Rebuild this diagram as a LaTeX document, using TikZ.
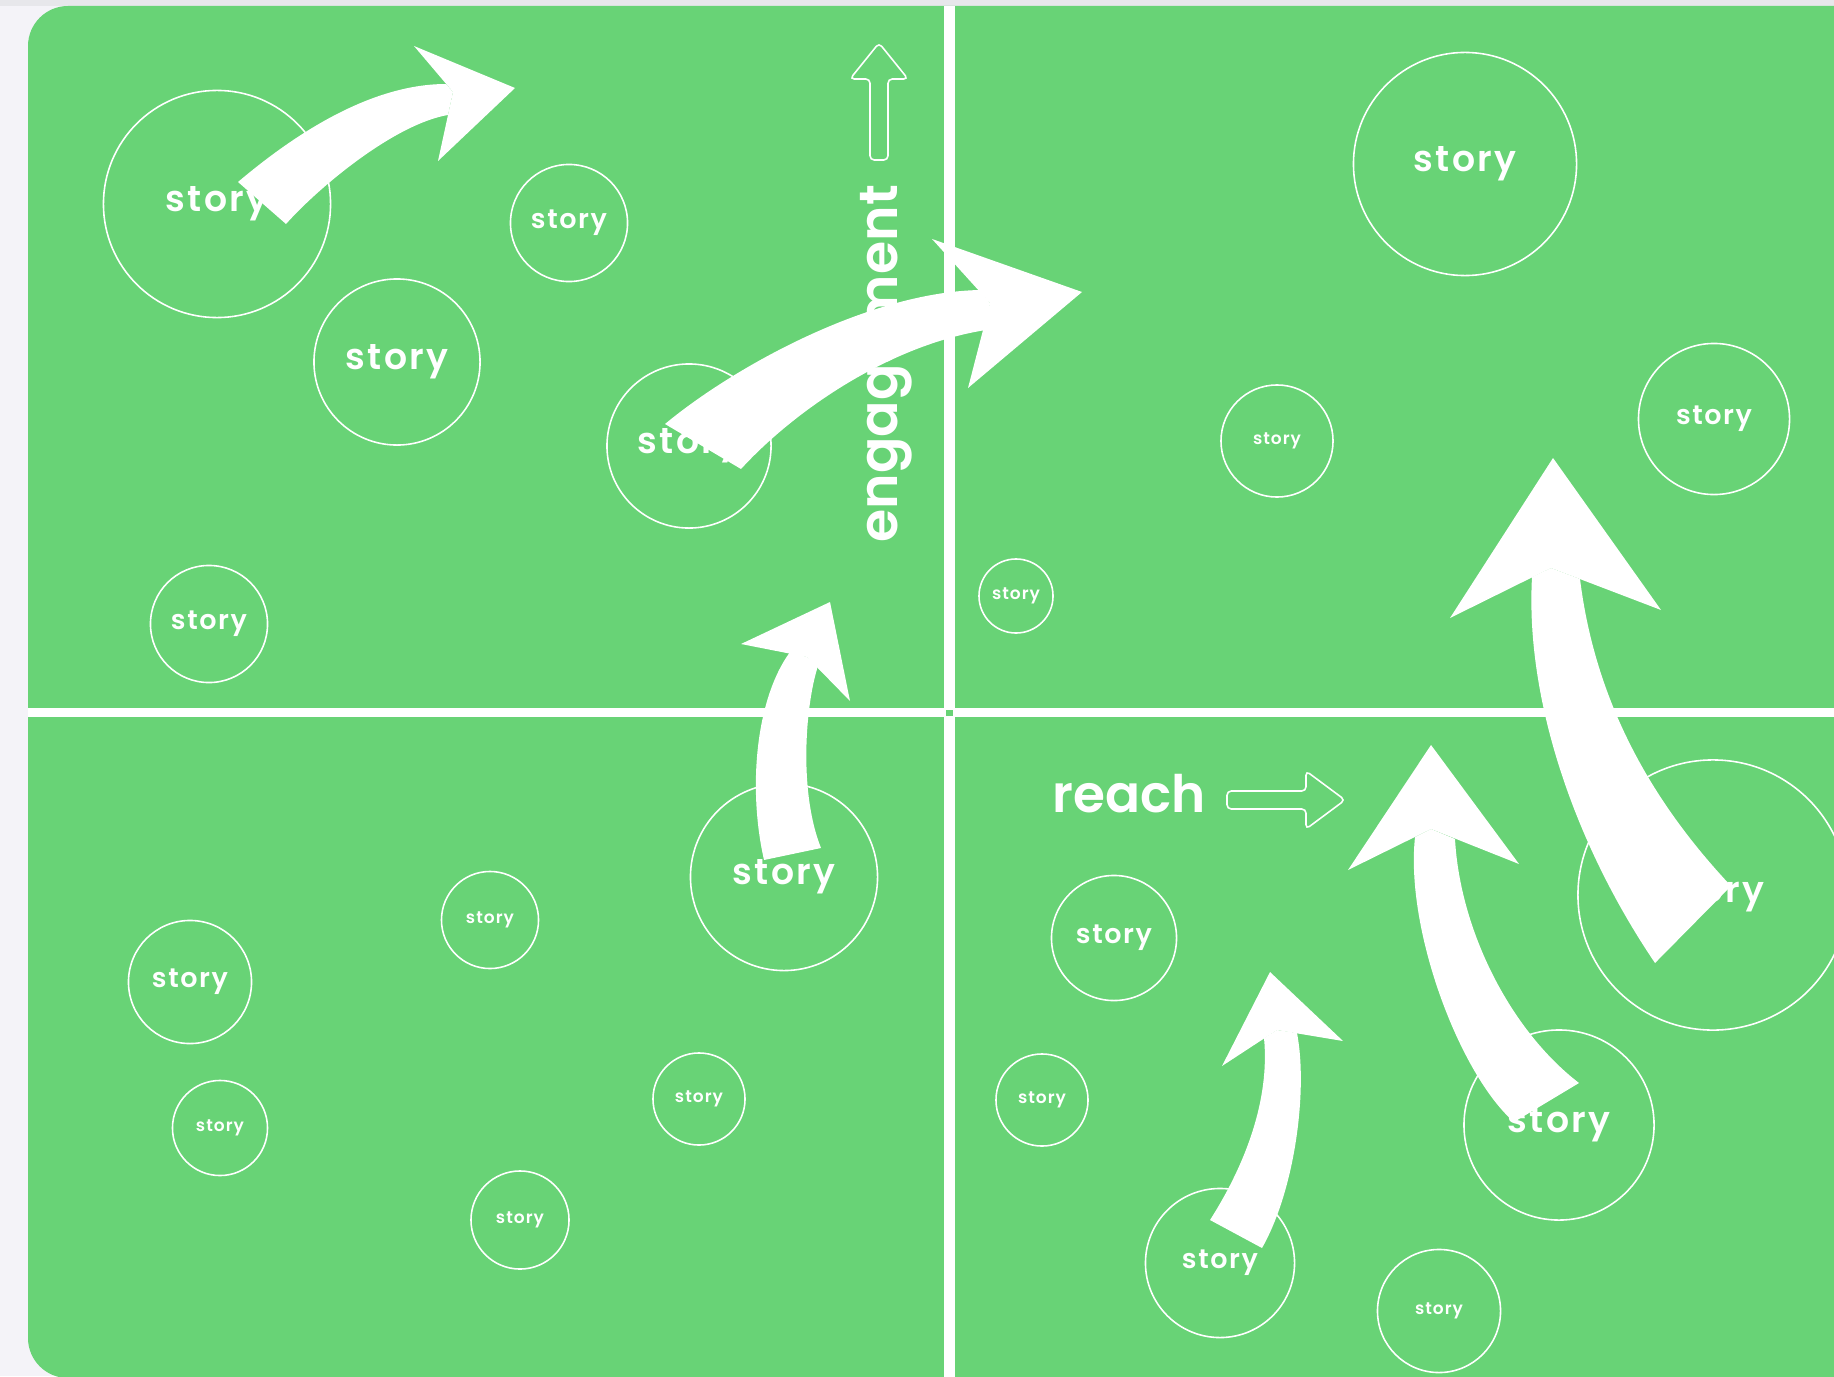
\documentclass[tikz,border=0pt]{standalone}
\usepackage{fontspec}
\setmainfont{Poppins}[BoldFont={Poppins SemiBold}]
\newfontfamily\storyfont{Poppins SemiBold}[LetterSpace=6]
\definecolor{bggreen}{HTML}{68D376}
\definecolor{pagebg}{HTML}{F4F3F8}
\definecolor{topband}{HTML}{E7E7EB}
\newcommand\storytext[1]{\resizebox{#1}{!}{\storyfont story}}
\tikzset{
  storycirc/.style={circle, draw=white, line width=0.45pt, inner sep=0pt, text=white},
  bigarrow/.style={fill=white},
  outlinearrow/.style={draw=white, line width=0.45pt, rounded corners=1.2pt},
  axislabel/.style={text=white, inner sep=0pt, font=\bfseries}
}
\begin{document}
\begin{tikzpicture}[x=0.01cm, y=-0.01cm]
\useasboundingbox (0,0) rectangle (1834,1376);
\clip (0,0) rectangle (1834,1376);
% page background
\fill[pagebg] (0,0) rectangle (1834,1376);
\fill[topband] (0,0) rectangle (1834,6);
% green board
\fill[bggreen, rounded corners=0.4cm] (28,6) rectangle (1900,1378);
% quadrant lines
\fill[white] (944,6) rectangle (955,1378);
\fill[white] (28,708) rectangle (1834,717);
\fill[bggreen] (946,710) rectangle (953,716);

% story circles
\node[storycirc, minimum size=2.27cm] (c1) at (217,204) {\storytext{1.02cm}};
\node[storycirc, minimum size=1.17cm] (c2) at (569,223) {\storytext{0.76cm}};
\node[storycirc, minimum size=1.66cm] (c3) at (397,362) {\storytext{1.02cm}};
\node[storycirc, minimum size=1.64cm] (c4) at (689,446) {\storytext{1.02cm}};
\node[storycirc, minimum size=1.17cm] (c5) at (209,624) {\storytext{0.76cm}};
\node[storycirc, minimum size=2.23cm] (c6) at (1465,164) {\storytext{1.02cm}};
\node[storycirc, minimum size=1.51cm] (c7) at (1714,419) {\storytext{0.76cm}};
\node[storycirc, minimum size=1.12cm] (c8) at (1277,441) {\storytext{0.48cm}};
\node[storycirc, minimum size=0.74cm] (c9) at (1016,596) {\storytext{0.48cm}};
\node[storycirc, minimum size=1.87cm] (c10) at (784,877) {\storytext{1.02cm}};
\node[storycirc, minimum size=0.97cm] (c11) at (490,920) {\storytext{0.48cm}};
\node[storycirc, minimum size=1.23cm] (c12) at (190,982) {\storytext{0.76cm}};
\node[storycirc, minimum size=0.95cm] (c13) at (220,1128) {\storytext{0.48cm}};
\node[storycirc, minimum size=0.92cm] (c14) at (699,1099) {\storytext{0.48cm}};
\node[storycirc, minimum size=0.98cm] (c15) at (520,1220) {\storytext{0.48cm}};
\node[storycirc, minimum size=2.70cm] (c16) at (1713,895) {\storytext{1.02cm}};
\node[storycirc, minimum size=1.25cm] (c17) at (1114,938) {\storytext{0.76cm}};
\node[storycirc, minimum size=0.92cm] (c18) at (1042,1100) {\storytext{0.48cm}};
\node[storycirc, minimum size=1.90cm] (c19) at (1559,1125) {\storytext{1.02cm}};
\node[storycirc, minimum size=1.49cm] (c20) at (1220,1263) {\storytext{0.76cm}};
\node[storycirc, minimum size=1.23cm] (c21) at (1439,1311) {\storytext{0.48cm}};

% axis labels
\node[axislabel, anchor=base west] (reach) at (1052,812) {\resizebox{1.53cm}{!}{reach}};
\node[axislabel, anchor=base west, rotate=90] (eng) at (897,543) {\resizebox{3.57cm}{!}{engagement}};

% outline axis arrows
\draw[outlinearrow] (870,160) -- (870,79) -- (850,79) -- (879,43) -- (908,79) -- (888,79) -- (888,160) -- cycle;
\draw[outlinearrow] (1227,791) -- (1306,791) -- (1306,771) -- (1345,800) -- (1306,829) -- (1306,809) -- (1227,809) -- cycle;

% big white arrows
% A
\fill[bigarrow] (238,182) .. controls (290,138) and (368,84) .. (446,84) -- (453,92) -- (448,115)
  .. controls (395,124) and (320,186) .. (286,224) -- cycle;
\fill[bigarrow] (515,88) -- (414,46) -- (453,92) -- (438,161) -- cycle;
% B
\fill[bigarrow] (665,424) .. controls (735,366) and (870,292) .. (980,290) -- (990,303) -- (986,330)
  .. controls (890,345) and (795,410) .. (741,469) -- cycle;
\fill[bigarrow] (1082,292) -- (932,239) -- (990,303) -- (968,388) -- cycle;
% C
\fill[bigarrow] (764,860) .. controls (748,790) and (755,700) .. (790,652) -- (807,657) -- (818,666)
  .. controls (806,702) and (798,790) .. (821,848) -- cycle;
\fill[bigarrow] (830,602) -- (741,644) -- (807,657) -- (850,701) -- cycle;
% D
\fill[bigarrow] (1210,1220) .. controls (1245,1165) and (1270,1100) .. (1264,1038) -- (1277,1030) -- (1297,1033)
  .. controls (1308,1090) and (1295,1190) .. (1262,1248) -- cycle;
\fill[bigarrow] (1270,972) -- (1222,1066) -- (1277,1030) -- (1343,1041) -- cycle;
% E
\fill[bigarrow] (1514,1122) .. controls (1460,1075) and (1405,930) .. (1415,837) -- (1431,829) -- (1455,839)
  .. controls (1460,930) and (1510,1030) .. (1579,1083) -- cycle;
\fill[bigarrow] (1431,745) -- (1348,870) -- (1431,829) -- (1519,864) -- cycle;
% F
\fill[bigarrow] (1655,963) .. controls (1575,845) and (1525,700) .. (1532,577) -- (1551,568) -- (1580,579)
  .. controls (1595,700) and (1650,800) .. (1731,886) -- cycle;
\fill[bigarrow] (1553,458) -- (1450,618) -- (1551,568) -- (1661,610) -- cycle;
\end{tikzpicture}
\end{document}
